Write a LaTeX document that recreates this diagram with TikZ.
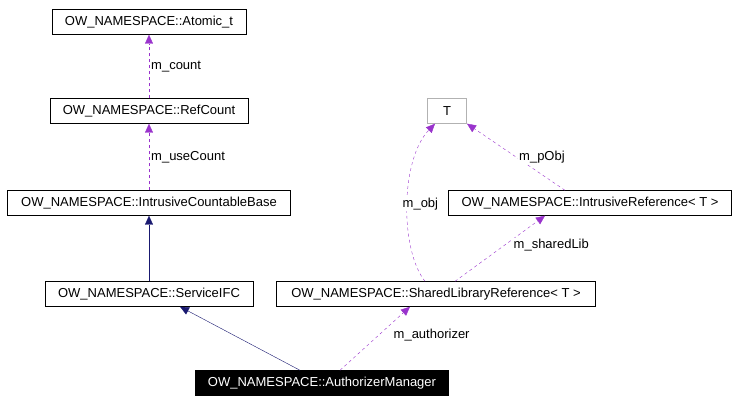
\documentclass[tikz,border=0pt]{standalone}
\usepackage{fontspec}
\setmainfont{Liberation Sans}
\usetikzlibrary{arrows.meta}

\begin{document}
\begin{tikzpicture}[x=1pt,y=-1pt,
    klass/.style ={draw, thin, fill=white, font=\fontsize{13}{15}\selectfont, inner sep=0pt, minimum height=25pt},
    member/.style ={color={rgb,255:red,153;green,51;blue,204}, dashed, -{Triangle[length=9pt,width=8pt]}},
    inherit/.style ={color={rgb,255:red,25;green,25;blue,112}, -{Triangle[length=9pt,width=8pt]}},
    lbl/.style ={font=\fontsize{13}{15}\selectfont, text=black, fill=white, inner sep=1pt}]
   \useasboundingbox (0,0) rectangle (739,403);
   \node[klass, minimum width=194pt] (atomic) at (149,22) {OW\_NAMESPACE::Atomic\_t};
   \node[klass, minimum width=198pt] (refcount) at (149,111) {OW\_NAMESPACE::RefCount};
   \node[klass, minimum width=283pt] (countable) at (149,203) {OW\_NAMESPACE::IntrusiveCountableBase};
   \node[klass, minimum width=208pt] (service) at (149,294) {OW\_NAMESPACE::ServiceIFC};
   \node[klass, minimum width=319pt] (sharedlib) at (436,294) {OW\_NAMESPACE::SharedLibraryReference< T >};
   \node[klass, minimum width=283pt] (intrusive) at (590,203) {OW\_NAMESPACE::IntrusiveReference< T >};
   \node[klass, draw=gray!60, minimum width=39pt] (T) at (447,111) {T};
   \node[klass, fill=black, text=white, minimum width=253pt] (authorizer) at (322,383) {OW\_NAMESPACE::AuthorizerManager};

   \draw[member] (refcount) -- (atomic) node[lbl, midway, right=1pt] {m\_count};
   \draw[member] (countable) -- (refcount) node[lbl, midway, right=1pt] {m\_useCount};
   \draw[inherit] (service) -- (countable);
   \draw[inherit] ([xshift=-22pt]authorizer.north) -- ([xshift=31pt]service.south);
   \draw[member] ([xshift=18pt]authorizer.north) -- ([xshift=-26pt]sharedlib.south) node[lbl, pos=0.55, right=14pt] {m\_authorizer};
   \draw[member] ([xshift=-11pt]sharedlib.north) .. controls (400,250) and (400,160) .. ([xshift=-12pt]T.south) node[lbl, pos=0.5, right=-6pt] {m\_obj};
   \draw[member] ([xshift=-25pt]intrusive.north) -- ([xshift=20pt]T.south) node[lbl, midway, right=2pt] {m\_pObj};
   \draw[member] ([xshift=19pt]sharedlib.north) -- ([xshift=-45pt]intrusive.south) node[lbl, pos=0.55, right=8pt] {m\_sharedLib};
 \end{tikzpicture}
\end{document}
